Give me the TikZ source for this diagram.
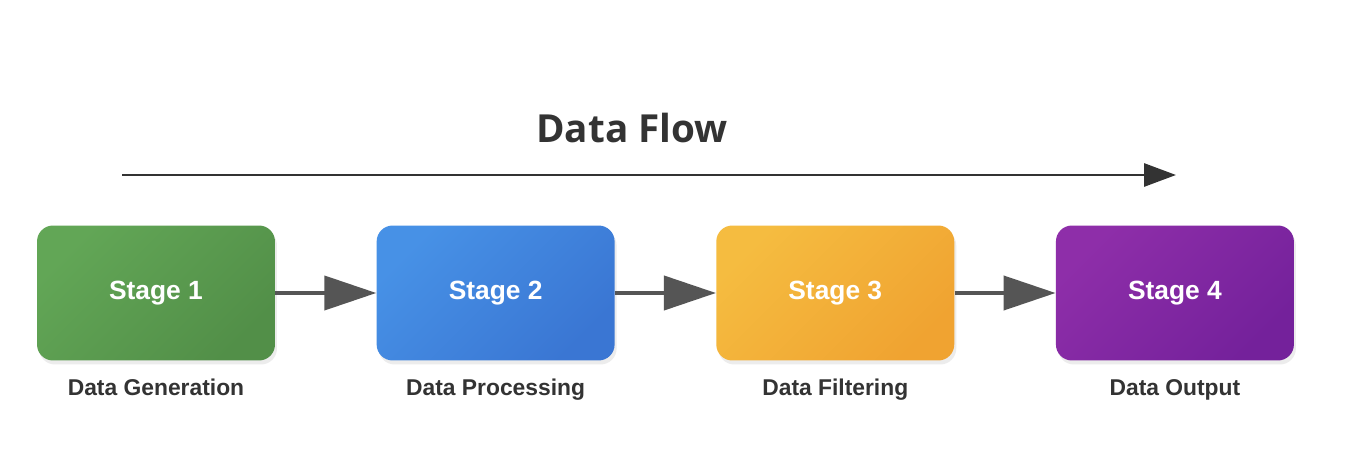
\documentclass[tikz,border=0pt]{standalone}
\usepackage{fontspec}
\setmainfont{Liberation Sans}
\newfontfamily\titlefont{Open Sans}
\usetikzlibrary{positioning}
\usetikzlibrary{arrows.meta}
\usetikzlibrary{shadows}
\definecolor{greenA}{HTML}{62A656}
\definecolor{greenB}{HTML}{528F48}
\definecolor{blueA}{HTML}{4791E6}
\definecolor{blueB}{HTML}{3A76D3}
\definecolor{orangeA}{HTML}{F5BC40}
\definecolor{orangeB}{HTML}{F0A331}
\definecolor{purpleA}{HTML}{8E2EA9}
\definecolor{purpleB}{HTML}{74219B}
\definecolor{linegray}{HTML}{555555}
\definecolor{textgray}{HTML}{333333}
\tikzset{
  stagebox/.style={rounded corners=0.32cm, minimum width=4.76cm, minimum height=2.7cm,
    text=white, font=\bfseries\fontsize{15}{18}\selectfont,
    drop shadow={shadow xshift=0.04cm, shadow yshift=-0.08cm, opacity=0.15}},
  stagelabel/.style={text=textgray, font=\bfseries\fontsize{13}{15}\selectfont,
    text height=1.6ex, text depth=0.4ex},
  flow/.style={draw=linegray, line width=2.3pt, -{Triangle[length=1.04cm, width=0.68cm]}}
}
\begin{document}
\begin{tikzpicture}[x=0.02cm, y=-0.02cm]
      \useasboundingbox[fill=white] (0,0) rectangle (1348,476);
      % Title and overall arrow
      \node (title) at (632,128) {\titlefont\bfseries\fontsize{22}{26}\selectfont\color{textgray}Data Flow};
      \coordinate (flowstart) at (122,175);
      \coordinate (flowend) at (1176,175);
      \draw[color=textgray, line width=1.7pt, -{Triangle[length=0.64cm, width=0.46cm]}] (flowstart) -- (flowend);
      % Stages
      \node[stagebox, left color=greenA, right color=greenB, shading angle=45] (stage1) at (156,293) {Stage 1};
      \node[stagebox, left color=blueA, right color=blueB, shading angle=45, right=2.02cm of stage1] (stage2) {Stage 2};
      \node[stagebox, left color=orangeA, right color=orangeB, shading angle=45, right=2.02cm of stage2] (stage3) {Stage 3};
      \node[stagebox, left color=purpleA, right color=purpleB, shading angle=45, right=2.02cm of stage3] (stage4) {Stage 4};
      % Labels under the stages
      \node[stagelabel, below=0.28cm of stage1] (label1) {Data Generation};
      \node[stagelabel, below=0.28cm of stage2] (label2) {Data Processing};
      \node[stagelabel, below=0.28cm of stage3] (label3) {Data Filtering};
      \node[stagelabel, below=0.28cm of stage4] (label4) {Data Output};
      % Connectors
      \draw[flow] (stage1) -- (stage2);
      \draw[flow] (stage2) -- (stage3);
      \draw[flow] (stage3) -- (stage4);
    \end{tikzpicture}
\end{document}
